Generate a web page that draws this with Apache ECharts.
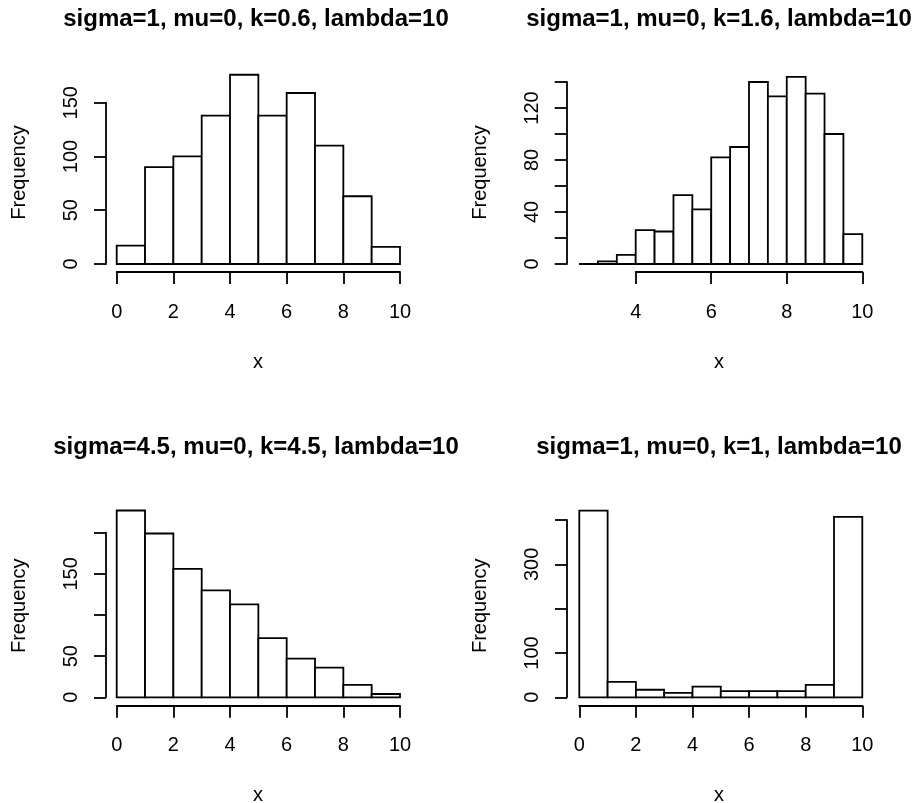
<!DOCTYPE html>
<html>
<head>
<meta charset="utf-8">
<script src="https://cdn.jsdelivr.net/npm/echarts@6/dist/echarts.min.js"></script>
<style>
    html, body { margin: 0; padding: 0; background: #fff; }
    #chart { width: 918px; height: 803px; }
</style>
</head>
<body>
<div id="chart"></div>
<script>
;
(function () {

    // panel titles
    var titles = [
        "sigma=1, mu=0, k=0.6, lambda=10",
        "sigma=1, mu=0, k=1.6, lambda=10",
        "sigma=4.5, mu=0, k=4.5, lambda=10",
        "sigma=1, mu=0, k=1, lambda=10"
    ];

    // histogram bins (edges) and counts
    var breaks1 = [0, 1, 2, 3, 4, 5, 6, 7, 8, 9, 10];
    var counts1 = [17, 90, 100, 138, 176, 138, 159, 110, 63, 16];

    var breaks2 = [2.5, 3, 3.5, 4, 4.5, 5, 5.5, 6, 6.5, 7, 7.5, 8, 8.5, 9, 9.5, 10];
    var counts2 = [0, 2, 7, 26, 25, 53, 42, 82, 90, 140, 129, 144, 131, 100, 23];

    var breaks3 = [0, 1, 2, 3, 4, 5, 6, 7, 8, 9, 10];
    var counts3 = [227, 199, 156, 130, 113, 72, 47, 36, 15, 4];

    var breaks4 = [0, 1, 2, 3, 4, 5, 6, 7, 8, 9, 10];
    var counts4 = [421, 35, 17, 10, 24, 14, 14, 14, 28, 407];

    // axis ticks and the labels R actually printed
    var xTicks1 = [0, 2, 4, 6, 8, 10];
    var yTicks1 = [0, 50, 100, 150];
    var yLabels1 = ["0", "50", "100", "150"];

    var xTicks2 = [4, 6, 8, 10];
    var yTicks2 = [0, 20, 40, 60, 80, 100, 120, 140];
    var yLabels2 = ["0", "", "40", "", "80", "", "120", ""];

    var xTicks3 = [0, 2, 4, 6, 8, 10];
    var yTicks3 = [0, 50, 100, 150, 200];
    var yLabels3 = ["0", "50", "", "150", ""];

    var xTicks4 = [0, 2, 4, 6, 8, 10];
    var yTicks4 = [0, 100, 200, 300, 400];
    var yLabels4 = ["0", "100", "", "300", ""];

    var font = '"Liberation Sans", Arial, sans-serif';
    var ink = "#000";

    // pixel frame of each panel: first/last tick positions and where R put the axis lines
    var panels = [
        { breaks: breaks1, counts: counts1, xTicks: xTicks1, yTicks: yTicks1, yLabels: yLabels1,
          x0: 116.7, x1: 400, y0: 264, y1: 102.7, xLineY: 272, yLineX: 106,
          title: [256, 19], ylab: [19.7, 172.5], xlab: [258, 362.3] },
        { breaks: breaks2, counts: counts2, xTicks: xTicks2, yTicks: yTicks2, yLabels: yLabels2,
          x0: 635.7, x1: 862.3, y0: 264, y1: 82, xLineY: 272, yLineX: 566.7,
          title: [719, 19], ylab: [480.5, 172.5], xlab: [719, 362.3] },
        { breaks: breaks3, counts: counts3, xTicks: xTicks3, yTicks: yTicks3, yLabels: yLabels3,
          x0: 116.7, x1: 400, y0: 697.3, y1: 532.7, xLineY: 705.7, yLineX: 106,
          title: [256, 447], ylab: [19.7, 605.8], xlab: [258, 795.6] },
        { breaks: breaks4, counts: counts4, xTicks: xTicks4, yTicks: yTicks4, yLabels: yLabels4,
          x0: 579.3, x1: 862.3, y0: 697.3, y1: 520, xLineY: 705.7, yLineX: 567,
          title: [719, 447], ylab: [480.5, 605.8], xlab: [719, 795.6] }
    ];

    var grids = [], xAxes = [], yAxes = [], series = [], graphics = [];

    panels.forEach(function (p, i) {
        grids.push({
            left: p.x0,
            top: p.y1,
            width: p.x1 - p.x0,
            height: p.y0 - p.y1,
            containLabel: false,
            outerBoundsMode: "none"
        });

        xAxes.push({
            gridIndex: i,
            type: "value",
            min: p.xTicks[0],
            max: p.xTicks[p.xTicks.length - 1],
            interval: p.xTicks[1] - p.xTicks[0],
            offset: p.xLineY - p.y0,
            axisLine: { show: true, onZero: false, lineStyle: { color: ink, width: 1.8 } },
            axisTick: { show: true, inside: false, length: 12, lineStyle: { color: ink, width: 1.8 } },
            axisLabel: { show: true, margin: 30, fontSize: 20, color: ink, fontFamily: font, showMinLabel: true, showMaxLabel: true },
            splitLine: { show: false }
        });

        yAxes.push({
            gridIndex: i,
            type: "value",
            min: p.yTicks[0],
            max: p.yTicks[p.yTicks.length - 1],
            interval: p.yTicks[1] - p.yTicks[0],
            offset: p.x0 - p.yLineX,
            axisLine: { show: true, onZero: false, lineStyle: { color: ink, width: 1.8 } },
            axisTick: { show: true, inside: false, length: 12, lineStyle: { color: ink, width: 1.8 } },
            axisLabel: {
                show: true, rotate: 90, margin: 24.5, fontSize: 20, color: ink, fontFamily: font,
                showMinLabel: true, showMaxLabel: true,
                formatter: function (v) {
                    var k = p.yTicks.indexOf(v);
                    return k >= 0 ? p.yLabels[k] : "";
                }
            },
            splitLine: { show: false }
        });

        var data = p.counts.map(function (c, j) {
            return [p.breaks[j], p.breaks[j + 1], c];
        });

        series.push({
            type: "custom",
            xAxisIndex: i,
            yAxisIndex: i,
            clip: false,
            silent: true,
            encode: { x: [0, 1], y: 2 },
            data: data,
            renderItem: function (params, api) {
                var tl = api.coord([api.value(0), api.value(2)]);
                var br = api.coord([api.value(1), 0]);
                return {
                    type: "rect",
                    shape: { x: tl[0], y: tl[1], width: br[0] - tl[0], height: br[1] - tl[1] },
                    style: { fill: "#fff", stroke: ink, lineWidth: 1.8 }
                };
            }
        });

        graphics.push({
            type: "text", x: p.title[0], y: p.title[1],
            style: { text: titles[i], align: "center", verticalAlign: "middle", font: "bold 24px " + font, fill: ink }
        });
        graphics.push({
            type: "text", x: p.ylab[0], y: p.ylab[1], rotation: Math.PI / 2,
            style: { text: "Frequency", align: "center", verticalAlign: "middle", font: "20px " + font, fill: ink }
        });
        graphics.push({
            type: "text", x: p.xlab[0], y: p.xlab[1],
            style: { text: "x", align: "center", verticalAlign: "middle", font: "20px " + font, fill: ink }
        });
    });

    var myChart = echarts.init(document.getElementById("chart"), null, { renderer: "canvas" });
    myChart.setOption({
        animation: false,
        backgroundColor: "#fff",
        grid: grids,
        xAxis: xAxes,
        yAxis: yAxes,
        series: series,
        graphic: graphics
    });

})();
</script>
</body>
</html>
